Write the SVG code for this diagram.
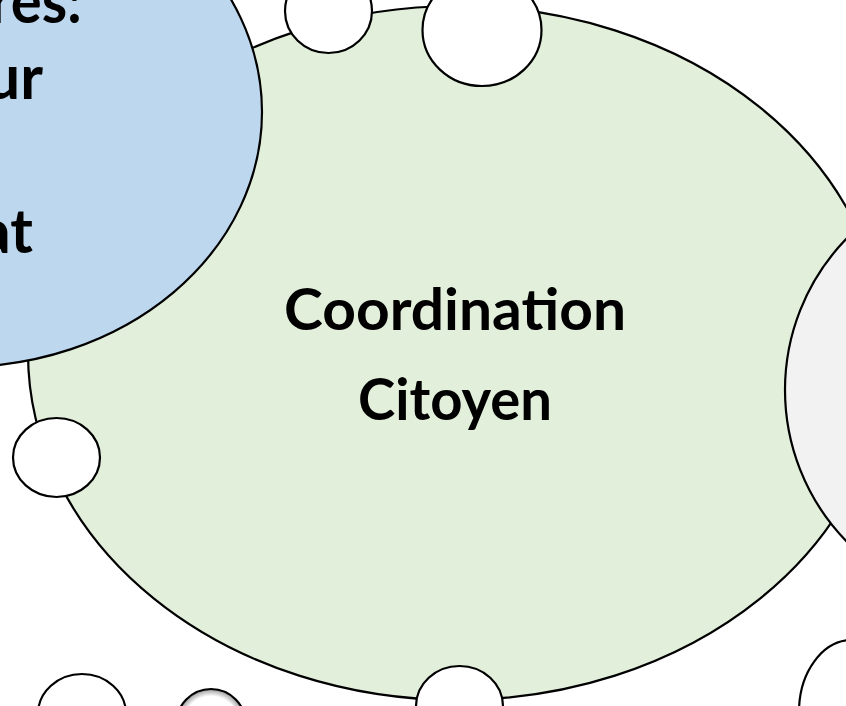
<svg xmlns="http://www.w3.org/2000/svg" width="846" height="706" viewBox="0 0 846 706">
<defs>
<style>
.n{stroke:#000;stroke-width:2.2}
.w{fill:#fff}
.t{font-family:Lato,"Liberation Sans",Arial,sans-serif;font-weight:bold;font-size:58px;fill:#000}
.b{font-size:61px}
</style>
<radialGradient id="g5" cx="0.5" cy="0.5" r="0.5">
<stop offset="0" stop-color="#fff"/>
<stop offset="0.8" stop-color="#fff"/>
<stop offset="1" stop-color="#9a9a9a"/>
</radialGradient>
</defs>
<rect width="846" height="706" fill="#fff"/>
<g id="coordination">
<ellipse class="n" cx="457" cy="353" rx="429" ry="347" fill="#e2efda"/>
<text class="t" x="284" y="330" textLength="342" lengthAdjust="spacingAndGlyphs">Coordination</text>
<text class="t" x="358" y="420" textLength="194" lengthAdjust="spacingAndGlyphs">Citoyen</text>
</g>
<g id="blue">
<ellipse class="n" cx="-40" cy="112" rx="302" ry="255" fill="#bdd7ee"/>
<text class="t b" x="-10" y="23" textLength="92" lengthAdjust="spacingAndGlyphs">res:</text>
<text class="t b" x="43" y="99" text-anchor="end">ur</text>
<text class="t b" x="33" y="253" text-anchor="end">at</text>
</g>
<g id="gray">
<ellipse class="n" cx="1002" cy="390" rx="217" ry="217" fill="#f2f2f2"/>
</g>
<g id="c1"><ellipse class="n w" cx="328.5" cy="11" rx="43.5" ry="42"/></g>
<g id="c2"><ellipse class="n w" cx="482" cy="30" rx="59.5" ry="56"/></g>
<g id="c3"><ellipse class="n w" cx="56.5" cy="457.5" rx="43.5" ry="39.5"/></g>
<g id="c4"><ellipse class="n w" cx="82" cy="714" rx="44" ry="40"/></g>
<g id="c5"><ellipse class="n" cx="211" cy="725" rx="35" ry="36" fill="url(#g5)"/></g>
<g id="c6"><ellipse class="n w" cx="459.5" cy="706" rx="43.5" ry="40"/></g>
<g id="c7"><ellipse class="n w" cx="852" cy="712" rx="53" ry="72"/></g>
<g id="connectors"/>
</svg>
